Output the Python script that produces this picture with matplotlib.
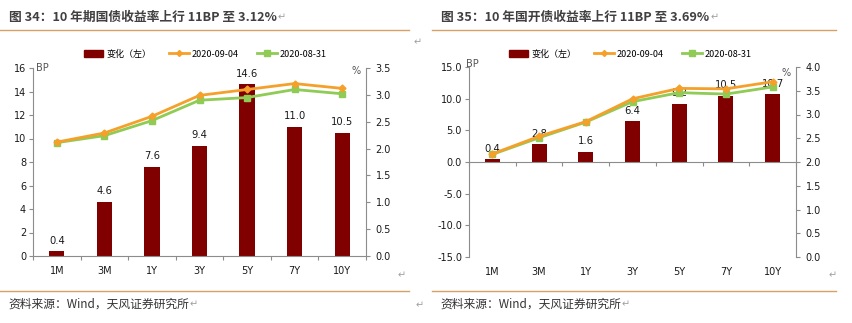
import matplotlib
matplotlib.use("Agg")
import matplotlib.pyplot as plt
from matplotlib.lines import Line2D
from matplotlib.patches import Patch
import numpy as np

plt.rcParams['font.family'] = ['Noto Sans CJK SC', 'DejaVu Sans']

categories = ["1M", "3M", "1Y", "3Y", "5Y", "7Y", "10Y"]

# Chart 34: treasury
gz_change = [0.4, 4.6, 7.6, 9.4, 14.6, 11.0, 10.5]
gz_0904 = [2.12, 2.29, 2.60, 2.99, 3.10, 3.21, 3.12]
gz_0831 = [2.11, 2.24, 2.52, 2.90, 2.95, 3.10, 3.02]

# Chart 35: CDB
gk_change = [0.4, 2.8, 1.6, 6.4, 9.2, 10.5, 10.7]
gk_0904 = [2.17, 2.54, 2.85, 3.33, 3.55, 3.54, 3.69]
gk_0831 = [2.16, 2.51, 2.84, 3.27, 3.46, 3.43, 3.58]

title_left = "图 34：10 年期国债收益率上行 11BP 至 3.12%"
title_right = "图 35：10 年国开债收益率上行 11BP 至 3.69%"
source = "资料来源：Wind，天风证券研究所"
legend_labels = ["变化（左）", "2020-09-04", "2020-08-31"]

BAR = "#800000"
ORANGE = "#F5A02A"
GREEN = "#8FCB55"
SPINE = "#8C8C8C"
TXT = "#1a1a1a"
RULE = "#D9A066"
RET = "#A0A0A0"

W, H = 852, 323
fig = plt.figure(figsize=(W / 100, H / 100), dpi=100)


def fx(px):
    return px / W


def fy(py):
    return 1 - py / H


def panel(rect, change, s1, s2, ylim, yticks, yfmt, y2lim, y2ticks, zero_axis):
    ax = fig.add_axes(rect)
    x = np.arange(len(categories))
    ax.bar(x, change, width=0.32, color=BAR, zorder=2)
    for xi, v in zip(x, change):
        ax.annotate(f"{v:.1f}", (xi, v), xytext=(0, 4), textcoords="offset points",
                    ha="center", va="bottom", fontsize=7.2, color=TXT, family="DejaVu Sans", zorder=3)
    ax.set_xlim(-0.5, len(categories) - 0.5)
    ax.set_ylim(*ylim)
    ax.set_yticks(yticks)
    ax.set_yticklabels([yfmt.format(t) for t in yticks])
    ax.spines["top"].set_visible(False)
    ax.spines["right"].set_visible(False)
    ax.spines["left"].set_color(SPINE)
    ax.spines["bottom"].set_color(SPINE)
    ax.tick_params(axis="y", length=3, color=SPINE, labelsize=7, labelcolor=TXT, pad=2)
    if zero_axis:
        ax.spines["bottom"].set_position(("data", 0))
    ax.set_xticks(np.arange(len(categories) + 1) - 0.5)
    ax.set_xticklabels([])
    ax.tick_params(axis="x", length=3, color=SPINE, direction="out")
    sec = ax.secondary_xaxis(0.0)
    sec.set_xticks(x)
    sec.set_xticklabels(categories)
    sec.spines["bottom"].set_visible(False)
    sec.tick_params(axis="x", length=0, labelsize=7, labelcolor=TXT, pad=7)
    for lab in sec.get_xticklabels():
        lab.set_family("DejaVu Sans")

    ax2 = ax.twinx()
    ax2.plot(x, s1, color=ORANGE, lw=2, marker="D", ms=3.5, zorder=4)
    ax2.plot(x, s2, color=GREEN, lw=2, marker="s", ms=5, zorder=3)
    ax2.set_ylim(*y2lim)
    ax2.set_yticks(y2ticks)
    ax2.set_yticklabels([f"{t:.1f}" for t in y2ticks])
    for s in ["top", "left", "bottom"]:
        ax2.spines[s].set_visible(False)
    ax2.spines["right"].set_color(SPINE)
    ax2.tick_params(axis="y", length=3, color=SPINE, labelsize=7, labelcolor=TXT, pad=4)
    for lab in ax.get_yticklabels() + ax2.get_yticklabels():
        lab.set_family("DejaVu Sans")
    return ax, ax2


# Left panel
axL, axL2 = panel([fx(33), fy(256), fx(333), (256 - 68) / H],
                  gz_change, gz_0904, gz_0831,
                  (0, 16), list(range(0, 17, 2)), "{:d}",
                  (0, 3.5), np.arange(0, 3.51, 0.5), False)
axL.text(0.01, 1.0, "BP", transform=axL.transAxes, ha="left", va="center",
         fontsize=7, color="#555555", family="DejaVu Sans")
axL2.text(0.985, 0.985, "%", transform=axL2.transAxes, ha="right", va="center",
          fontsize=7, color="#555555", family="DejaVu Sans")

# Right panel
axR, axR2 = panel([fx(469), fy(257), fx(327), (257 - 67) / H],
                  gk_change, gk_0904, gk_0831,
                  (-15, 15), [-15, -10, -5, 0, 5, 10, 15], "{:.1f}",
                  (0, 4.0), np.arange(0, 4.01, 0.5), True)
axR.text(-0.01, 1.015, "BP", transform=axR.transAxes, ha="left", va="center",
         fontsize=7, color="#555555", family="DejaVu Sans")
axR2.text(0.985, 0.97, "%", transform=axR2.transAxes, ha="right", va="center",
          fontsize=7, color="#555555", family="DejaVu Sans")

# Titles, rules, legends, sources
handles = [Patch(facecolor=BAR, edgecolor=BAR),
           Line2D([], [], color=ORANGE, lw=2, marker="D", ms=3),
           Line2D([], [], color=GREEN, lw=2, marker="s", ms=4)]

for x0, x1, title, lx in [(0, 409, title_left, 205), (432, 836, title_right, 630)]:
    t = fig.text(fx(x0 + 9), fy(17), title, fontsize=9.2, fontweight="bold", color="#404040",
                 ha="left", va="center")
    fig.add_artist(Line2D([fx(x0), fx(x1)], [fy(30), fy(30)], color=RULE, lw=1))
    fig.add_artist(Line2D([fx(x0), fx(x1)], [fy(291), fy(291)], color=RULE, lw=1))
    fig.text(fx(x0 + 8), fy(304), source, fontsize=8.5, color="#333333", ha="left", va="center")
    fig.legend(handles, legend_labels, loc="center", bbox_to_anchor=(fx(lx), fy(54)),
               ncol=3, frameon=False, fontsize=6.5, handlelength=2.2, columnspacing=2.0,
               handletextpad=0.3)

# paragraph marks
fig.canvas.draw()
r = fig.canvas.get_renderer()
for txt in list(fig.texts):
    bb = txt.get_window_extent(r)
    if txt.get_text() in (title_left, title_right, source):
        fig.text(fx(bb.x1 + 1), (bb.y0 + bb.y1) / 2 / H, "↵", fontsize=7, color=RET,
                 ha="left", va="center", family="DejaVu Sans")

for px, py in [(418, 42), (402, 275), (420, 305), (833, 275)]:
    fig.text(fx(px), fy(py), "↵", fontsize=7, color=RET, ha="center", va="center",
             family="DejaVu Sans")

fig.savefig("out.png", dpi=100)
